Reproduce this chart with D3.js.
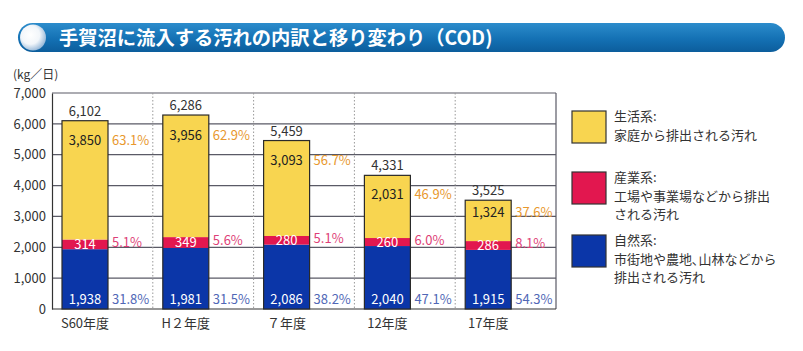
<!DOCTYPE html>
<html><head><meta charset="utf-8">
<script src="https://cdn.jsdelivr.net/npm/d3@7/dist/d3.min.js"></script>
<style>
html,body{margin:0;padding:0;background:#fff;}
svg{display:block;font-family:"Noto Sans CJK JP","Noto Sans",sans-serif;}
</style></head>
<body>
<svg id="chart" width="803" height="351"></svg>
<script>
const categories = ["S60年度", "H２年度", "７年度", "12年度", "17年度"];
const natural    = [1938, 1981, 2086, 2040, 1915];
const industrial = [314, 349, 280, 260, 286];
const domestic   = [3850, 3956, 3093, 2031, 1324];
const totals     = [6102, 6286, 5459, 4331, 3525];
const pctDomestic   = ["63.1%", "62.9%", "56.7%", "46.9%", "37.6%"];
const pctIndustrial = ["5.1%", "5.6%", "5.1%", "6.0%", "8.1%"];
const pctNatural    = ["31.8%", "31.5%", "38.2%", "47.1%", "54.3%"];
const yTicks = [0, 1000, 2000, 3000, 4000, 5000, 6000, 7000];
const title = "手賀沼に流入する汚れの内訳と移り変わり（COD)";
const unitLabel = "(kg／日)";
const legendItems = [
  {name: "生活系:", lines: ["家庭から排出される汚れ"]},
  {name: "産業系:", lines: ["工場や事業場などから排出", "される汚れ"]},
  {name: "自然系:", lines: ["市街地や農地､山林などから", "排出される汚れ"]}
];

(function () {
const colors = {dom: "#f8d550", ind: "#e2174f", nat: "#0b36a8"};
const pctColors = {dom: "#e8982e", ind: "#de3f78", nat: "#5067b6"};

const svg = d3.select("#chart");
const fmt = d3.format(",");

// Title banner
const defs = svg.append("defs");
const g1 = defs.append("linearGradient").attr("id","ban").attr("x1",0).attr("y1",0).attr("x2",0).attr("y2",1);
g1.append("stop").attr("offset","0%").attr("stop-color","#2c8ccc");
g1.append("stop").attr("offset","55%").attr("stop-color","#1471b4");
g1.append("stop").attr("offset","100%").attr("stop-color","#0c5d9c");
const g2 = defs.append("radialGradient").attr("id","orb").attr("cx","40%").attr("cy","40%").attr("r","65%");
g2.append("stop").attr("offset","0%").attr("stop-color","#ffffff");
g2.append("stop").attr("offset","55%").attr("stop-color","#f2f6fa");
g2.append("stop").attr("offset","100%").attr("stop-color","#8fb3d6");

svg.append("rect").attr("x",18).attr("y",23).attr("width",767).attr("height",29)
  .attr("rx",14.5).attr("fill","url(#ban)");
svg.append("ellipse").attr("cx",33).attr("cy",37.5).attr("rx",13).attr("ry",13)
  .attr("fill","url(#orb)");
svg.append("text").attr("x",59).attr("y",44.5).attr("fill","#fff")
  .attr("font-size",19.3).attr("font-weight","bold").text(title);

// Scales
const pLeft = 52, pRight = 556, pTop = 93, pBottom = 309;
const x = d3.scaleBand().domain(categories).range([pLeft, pRight]).padding(0);
const y = d3.scaleLinear().domain([0, 7000]).range([pBottom, pTop]);
const barOff = 10, barW = 46;

// Gridlines
svg.append("g").selectAll("line").data(yTicks.filter(t => t > 0)).join("line")
  .attr("x1", pLeft).attr("x2", pRight)
  .attr("y1", d => y(d)).attr("y2", d => y(d))
  .attr("stroke", "#5a5a66").attr("stroke-width", 1.2);
svg.append("g").selectAll("line").data(categories.slice(1)).join("line")
  .attr("x1", d => x(d)).attr("x2", d => x(d))
  .attr("y1", pTop).attr("y2", pBottom)
  .attr("stroke", "#999").attr("stroke-dasharray", "1.5,2").attr("stroke-width", 1);
svg.append("line").attr("x1", pRight).attr("x2", pRight).attr("y1", pTop).attr("y2", pBottom)
  .attr("stroke", "#5a5a66").attr("stroke-width", 1.2);

// Y axis
const yAxis = d3.axisLeft(y).tickValues(yTicks).tickFormat(fmt).tickSize(0).tickPadding(6);
const ya = svg.append("g").attr("transform", `translate(${pLeft},0)`).call(yAxis);
ya.select(".domain").attr("stroke", "#333").attr("stroke-width", 1.2);
ya.selectAll("text").attr("font-size", 13).attr("fill", "#333")
  .attr("font-family", '"Noto Sans CJK JP",sans-serif');
svg.append("line").attr("x1", pLeft).attr("x2", pRight).attr("y1", pBottom).attr("y2", pBottom)
  .attr("stroke", "#333").attr("stroke-width", 1.2);

// X axis labels
const xAxis = d3.axisBottom(x).tickSize(0).tickPadding(10);
const xa = svg.append("g").attr("transform", `translate(${-(x.bandwidth()/2 - barOff - barW/2)},${pBottom})`).call(xAxis);
xa.select(".domain").remove();
xa.selectAll("text").attr("font-size", 13).attr("fill", "#333")
  .attr("font-family", '"Noto Sans CJK JP",sans-serif');

svg.append("text").attr("x", 13).attr("y", 79).attr("font-size", 12).attr("fill", "#333").text(unitLabel);

// Bars
const data = categories.map((c, i) => ({
  c, i,
  segs: [
    {k: "nat", y0: 0, y1: natural[i], v: natural[i], p: pctNatural[i]},
    {k: "ind", y0: natural[i], y1: natural[i] + industrial[i], v: industrial[i], p: pctIndustrial[i]},
    {k: "dom", y0: natural[i] + industrial[i], y1: natural[i] + industrial[i] + domestic[i], v: domestic[i], p: pctDomestic[i]}
  ]
}));

const bg = svg.append("g").selectAll("g").data(data).join("g");
bg.selectAll("rect.seg").data(d => d.segs.map(s => ({...s, c: d.c}))).join("rect")
  .attr("class", "seg")
  .attr("x", d => x(d.c) + barOff).attr("width", barW)
  .attr("y", d => y(d.y1)).attr("height", d => y(d.y0) - y(d.y1))
  .attr("fill", d => colors[d.k]);
bg.append("rect")
  .attr("x", d => x(d.c) + barOff).attr("width", barW)
  .attr("y", d => y(totals[d.i])).attr("height", d => pBottom - y(totals[d.i]))
  .attr("fill", "none").attr("stroke", "#2a2a2a").attr("stroke-width", 1.2);

bg.append("text").attr("x", d => x(d.c) + barOff + barW/2).attr("y", d => y(totals[d.i]) - 5)
  .attr("text-anchor", "middle").attr("font-size", 13).attr("fill", "#333")
  .text(d => fmt(totals[d.i]));

function segLabelY(s) {
  if (s.k === "dom") { const h = y(s.y0) - y(s.y1); return y(s.y1) + Math.min(19.5, h * 0.3) + 5; }
  if (s.k === "ind") return (y(s.y0) + y(s.y1)) / 2 + 4.5;
  return pBottom - 10 + 4.5;
}
bg.selectAll("text.val").data(d => d.segs.map(s => ({...s, c: d.c}))).join("text")
  .attr("class", "val")
  .attr("x", d => x(d.c) + barOff + barW/2).attr("y", segLabelY)
  .attr("text-anchor", "middle").attr("font-size", 13)
  .attr("fill", d => d.k === "dom" ? "#222" : "#fff")
  .text(d => fmt(d.v));
bg.selectAll("text.pct").data(d => d.segs.map(s => ({...s, c: d.c}))).join("text")
  .attr("class", "pct")
  .attr("x", d => x(d.c) + barOff + barW + 4).attr("y", d => segLabelY(d) - (d.k === "ind" ? 2 : 0))
  .attr("font-size", 13).attr("fill", d => pctColors[d.k])
  .text(d => d.p);

// Legend
const legColors = [colors.dom, colors.ind, colors.nat];
const legTops = [111, 172, 235];
const lg = svg.append("g").selectAll("g").data(legendItems).join("g");
lg.append("rect").attr("x", 572).attr("y", (d, i) => legTops[i]).attr("width", 34).attr("height", 32)
  .attr("fill", (d, i) => legColors[i]).attr("stroke", "#333").attr("stroke-width", 1.2);
lg.each(function(d, i) {
  const g = d3.select(this);
  [d.name, ...d.lines].forEach((ln, j) => {
    g.append("text").attr("font-size", 13).attr("fill", "#333")
      .attr("x", 614).attr("y", legTops[i] + 10 + j * 18.5).text(ln);
  });
});
})();
</script>
</body></html>
